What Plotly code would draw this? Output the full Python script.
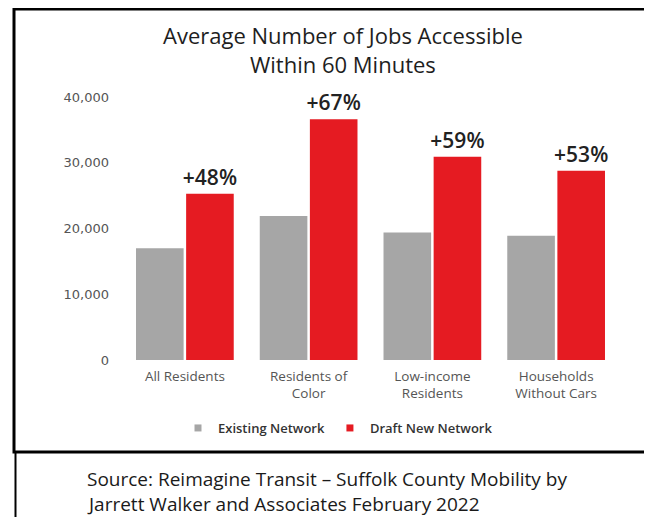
import plotly.graph_objects as go

# data
categories = ["All Residents", "Residents of<br>Color", "Low-income<br>Residents", "Households<br>Without Cars"]
existing = [17000, 21900, 19400, 18900]
draft_new = [25300, 36600, 30900, 28800]
pct_labels = ["+48%", "+67%", "+59%", "+53%"]
y_ticks = [0, 10000, 20000, 30000, 40000]
series_names = ["Existing Network", "Draft New Network"]
series_colors = ["#A6A6A6", "#E51B22"]

W, H = 652, 517
OFF = 8  # page body margin
# plot area in page pixels
L, R, T, B = 123, 618, 97, 360


def px(x):
    return (x - L) / (R - L)


def py(y):
    return (B - y) / (B - T)


fig = go.Figure()

fig.add_trace(go.Bar(
    x=categories, y=existing, name=series_names[0], showlegend=False,
    marker=dict(color=series_colors[0], line=dict(width=0)),
))
fig.add_trace(go.Bar(
    x=categories, y=draft_new, name=series_names[1], showlegend=False,
    marker=dict(color=series_colors[1], line=dict(width=0)),
    text=pct_labels, textposition="outside", cliponaxis=False,
    constraintext="none",
    textfont=dict(family="Open Sans", size=21, color="#222222", weight=600),
))

# legend entries with small square markers
for name, color in zip(series_names, series_colors):
    fig.add_trace(go.Scatter(
        x=[None], y=[None], mode="markers", name=name,
        marker=dict(symbol="square", size=7, color=color),
    ))

# frame around the chart and the source cell
shapes = [
    dict(type="rect", xref="paper", yref="paper",
         x0=px(14), x1=px(650), y0=py(452), y1=py(9),
         line=dict(color="black", width=3)),
    dict(type="line", xref="paper", yref="paper",
         x0=px(15.5), x1=px(15.5), y0=py(452), y1=py(525),
         line=dict(color="black", width=2)),
    dict(type="line", xref="paper", yref="paper",
         x0=px(650), x1=px(650), y0=py(452), y1=py(525),
         line=dict(color="black", width=2)),
]

title_font = dict(family="Open Sans", size=22, color="#1e1e1e")
source_font = dict(family="Open Sans", size=19, color="#1a1a1a")
annotations = [
    dict(text="Average Number of Jobs Accessible", xref="paper", yref="paper",
         x=px(343), y=py(35), xanchor="center", yanchor="middle",
         showarrow=False, font=title_font),
    dict(text="Within 60 Minutes", xref="paper", yref="paper",
         x=px(343), y=py(64), xanchor="center", yanchor="middle",
         showarrow=False, font=title_font),
    dict(text="Source: Reimagine Transit – Suffolk County Mobility by",
         xref="paper", yref="paper", x=px(85), y=py(479),
         xanchor="left", yanchor="middle", showarrow=False, font=source_font),
    dict(text="Jarrett Walker and Associates February 2022",
         xref="paper", yref="paper", x=px(85), y=py(504),
         xanchor="left", yanchor="middle", showarrow=False, font=source_font),
]

fig.update_layout(
    width=W - OFF, height=H - OFF,
    margin=dict(l=L - OFF, r=W - R, t=T - OFF, b=H - B),
    paper_bgcolor="white", plot_bgcolor="white",
    barmode="group", bargap=0.19, bargroupgap=0.05,
    shapes=shapes, annotations=annotations,
    showlegend=True,
    legend=dict(orientation="h", x=px(338), y=py(428),
                xanchor="center", yanchor="middle",
                font=dict(family="Open Sans", size=13, color="#333333", weight=600),
                itemwidth=30, traceorder="normal"),
)

fig.update_xaxes(
    showgrid=False, showline=False, ticks="",
    tickfont=dict(family="Open Sans", size=13.5, color="#555555"),
    ticklabelstandoff=6,
)
fig.update_yaxes(
    range=[0, 40000], tickvals=y_ticks, tickformat=",",
    showgrid=False, zeroline=False, showline=False, ticks="",
    tickfont=dict(family="DejaVu Sans", size=13, color="#555555"),
    ticklabelstandoff=13,
)

fig.write_html("out.html")
